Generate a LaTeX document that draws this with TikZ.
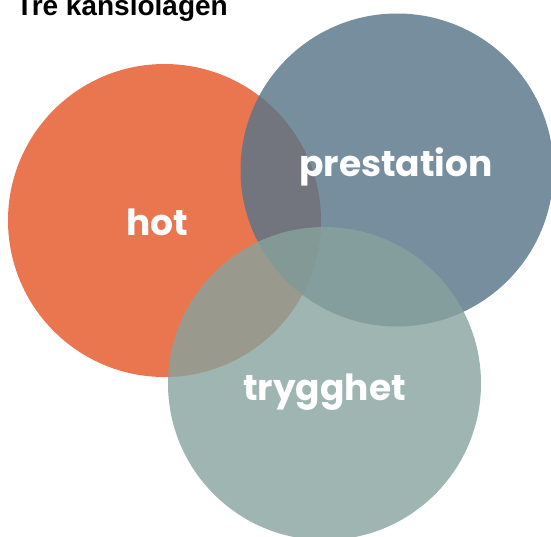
\documentclass[tikz,border=0pt]{standalone}
\usepackage{fontspec}
\setmainfont{Poppins}
\newfontfamily\titlefont{Liberation Sans}
\definecolor{hotcol}{RGB}{234,118,80}
\definecolor{prescol}{RGB}{88,117,135}
\definecolor{trygcol}{RGB}{134,162,157}
\tikzset{
  venn/.style={circle, inner sep=0pt, minimum size=313pt, draw=none},
  vlabel/.style={text=white, anchor=base, inner sep=0pt, font=\fontsize{36}{40}\selectfont\bfseries},
}
\begin{document}
\begin{tikzpicture}[x=1pt,y=-1pt]
\useasboundingbox (0,0) rectangle (551,536);
\clip (0,0) rectangle (551,536);
\node[venn, fill=hotcol] (hotc) at (164.5,220.5) {};
\node[venn, fill=prescol, fill opacity=0.82] (presc) at (397,170) {};
\node[venn, fill=trygcol, fill opacity=0.8] (trygc) at (324.5,383.5) {};
\node[vlabel] (hot) at (157,235) {hot};
\node[vlabel] (pres) at (396,176) {prestation};
\node[vlabel] (tryg) at (324.5,400) {trygghet};
\node[anchor=base west, inner sep=0pt, font=\titlefont\fontsize{28}{30}\selectfont\bfseries] (title) at (16,15) {Tre känslolägen};
\end{tikzpicture}
\end{document}
